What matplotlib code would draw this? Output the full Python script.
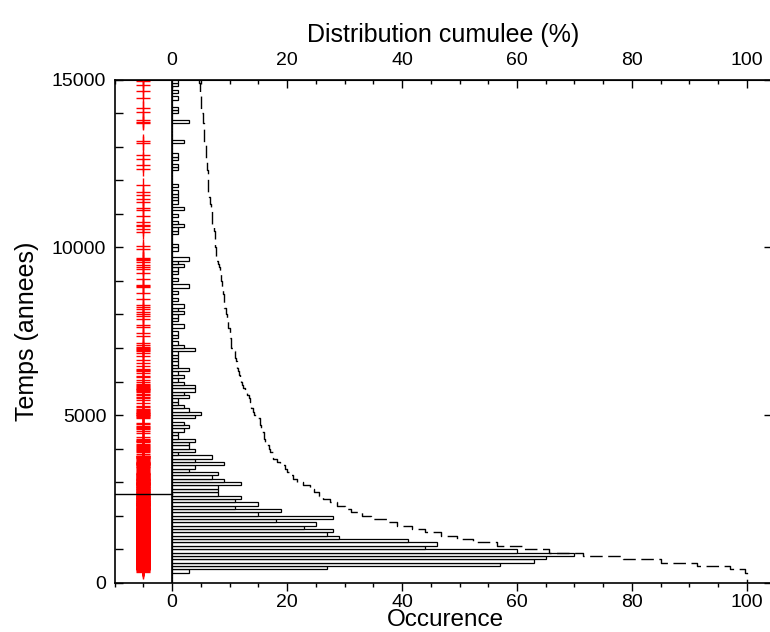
import numpy as np
import matplotlib.pyplot as plt
from matplotlib.ticker import MultipleLocator, FixedLocator

plt.rcParams['font.family'] = ['Liberation Sans', 'DejaVu Sans']

# Occurences par classe de 100 ans (0-100, 100-200, ..., 14900-15000)
occurences = [
    0, 0, 0, 3, 27, 57, 63, 65, 70, 60,      # 0 - 1000
    44, 46, 41, 29, 27, 28, 23, 25, 18, 28,  # 1000 - 2000
    15, 19, 11, 15, 11, 12, 8, 8, 8, 12,     # 2000 - 3000
    9, 7, 8, 3, 4, 9, 4, 7, 1, 4,            # 3000 - 4000
    3, 3, 4, 1, 1, 2, 3, 2, 0, 4,            # 4000 - 5000
    5, 3, 2, 1, 1, 3, 2, 4, 4, 2,            # 5000 - 6000
    1, 2, 1, 3, 1, 1, 1, 1, 1, 4,            # 6000 - 7000
    2, 1, 0, 1, 1, 0, 2, 0, 1, 1,            # 7000 - 8000
    2, 1, 2, 0, 1, 0, 1, 0, 3, 0,            # 8000 - 9000
    1, 0, 1, 1, 2, 1, 3, 0, 0, 1,            # 9000 - 10000
    1, 0, 0, 0, 1, 1, 2, 1, 0, 1,            # 10000 - 11000
    0, 2, 0, 1, 1, 1, 1, 0, 1, 0,            # 11000 - 12000
    0, 0, 0, 1, 1, 0, 1, 1, 0, 0,            # 12000 - 13000
    0, 2, 0, 0, 0, 0, 0, 3, 0, 0,            # 13000 - 14000
    1, 1, 0, 0, 1, 0, 1, 0, 1, 1,            # 14000 - 15000
]
largeur_classe = 100
n_plus_vieux = 47     # evenements au-dela de 15000 ans
temps_seuil = 2650    # trait horizontal a gauche de l'axe
graduations_pct = [0, 20, 40, 60, 80, 100]

occurences = np.array(occurences)
debut = np.arange(len(occurences)) * largeur_classe
t_max = debut[-1] + largeur_classe

# evenements individuels (croix rouges), repartis dans leur classe
ages = np.concatenate([d + (np.arange(n) + 0.5) * largeur_classe / n
                       for d, n in zip(debut, occurences)])

# distribution cumulee depuis le haut (en %)
total = n_plus_vieux + occurences.sum()
cumul = 100 * (n_plus_vieux + np.concatenate([[0], np.cumsum(occurences[::-1])])) / total
bords = np.arange(t_max, -1, -largeur_classe)

fig = plt.figure(figsize=(7.7, 6.32), dpi=100)
ax = fig.add_axes([114.7 / 770, 49.3 / 632, 656.9 / 770, 503.0 / 632])

ax.barh(debut + largeur_classe / 2, occurences, height=largeur_classe,
        color='white', edgecolor='black', linewidth=0.9)
ax.plot([0, 0], [0, t_max], color='black', lw=1.2)
ax.plot(np.full(len(ages), -5.0), ages, '+', color='red', ms=9.6, mew=1.0)
ax.plot([-10, 0], [temps_seuil, temps_seuil], color='black', lw=1.0)
ax.plot(cumul, bords, drawstyle='steps-pre', color='black', lw=1.0,
        dashes=(9, 4))

ax.set_xlim(-10, 104.3)
ax.set_ylim(0, t_max)

ax.xaxis.set_major_locator(FixedLocator(graduations_pct))
ax.xaxis.set_minor_locator(MultipleLocator(5))
ax.yaxis.set_major_locator(MultipleLocator(5000))
ax.yaxis.set_minor_locator(MultipleLocator(1000))
ax.tick_params(axis='x', which='major', direction='out', length=6, width=1,
               labelsize=14, pad=2)
ax.tick_params(axis='x', which='minor', direction='out', length=3, width=1)
ax.tick_params(axis='y', which='both', direction='in', length=6, width=1,
               labelsize=14, pad=6, right=True)
ax.tick_params(axis='y', which='minor', right=False)

top = ax.secondary_xaxis('top')
top.xaxis.set_major_locator(FixedLocator(graduations_pct))
top.xaxis.set_minor_locator(MultipleLocator(5))
top.tick_params(which='major', direction='in', length=6, width=1, labelsize=14, pad=8)
top.tick_params(which='minor', direction='in', length=3, width=1)
top.set_xlabel('Distribution cumulee (%)', fontsize=18, labelpad=7)

for s in ax.spines.values():
    s.set_linewidth(1.2)

ax.set_xlabel('Occurence', fontsize=17.5, va='bottom')
ax.xaxis.label.set_position((445 / 770, 1.0 / 632))
ax.xaxis.set_label_coords(445 / 770, 1.0 / 632, transform=fig.transFigure)
ax.set_ylabel('Temps (annees)', fontsize=18, labelpad=9)

fig.savefig('out.png', dpi=100)
